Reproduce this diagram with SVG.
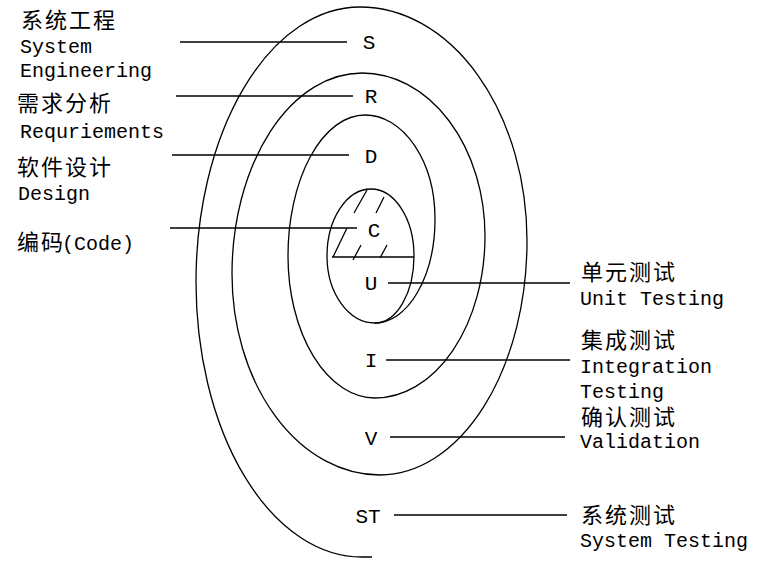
<svg xmlns="http://www.w3.org/2000/svg" width="763" height="562" viewBox="0 0 763 562">
<style>
.ln{fill:none;stroke:#000;stroke-width:1.3}
.cj{font-family:"Noto Sans CJK SC","Noto Sans CJK JP",sans-serif;font-size:22px;letter-spacing:2px;fill:#000}
.en{font-family:"Liberation Mono","DejaVu Sans Mono",monospace;font-size:20px;fill:#000}
.lt{font-family:"Liberation Mono","DejaVu Sans Mono",monospace;font-size:21px;fill:#000;text-anchor:middle}
</style>
<rect width="763" height="562" fill="#fff"/>
<g id="spiral">
<path class="ln" d="M371 189 A44 67 0 0 0 327 256 A48 67 0 0 0 375 323 A39 67 0 0 0 414 256 A43 67 0 0 0 371 189 Z"/>
<path class="ln" d="M375 323 A60 104 0 0 0 435 219 A70 104 0 0 0 365 115 A77 141 0 0 0 288 256 A87 142 0 0 0 375 398 A110 162 0 0 0 485 236 A123 163 0 0 0 362 73 A130 201 0 0 0 232 274 A148 201 0 0 0 380 475 A147 234 0 0 0 527 241 A167 234 0 0 0 360 7 A164 275 0 0 0 196 282 A166 275 0 0 0 362 557 L372 557"/>
<path class="ln" d="M332 257 H414 M367 190 L354 213 M384 197 L376 213 M347 228 L333 257 M361 245 L353 260 M387 245 L380 258"/>
</g>
<g id="connectors">
<path class="ln" d="M180 42 H347 M176 96 H353 M172 155 H349 M170 228 H357 M388 283 H570 M386 360 H570 M390 437 H565 M394 515 H567"/>
</g>
<g id="node-S"><text class="lt" x="369" y="49">S</text>
<text class="cj" x="21" y="28">系统工程</text><text class="en" x="20" y="53">System</text><text class="en" x="20" y="77">Engineering</text></g>
<g id="node-R"><text class="lt" x="371" y="103">R</text>
<text class="cj" x="17" y="111">需求分析</text><text class="en" x="20" y="138">Requriements</text></g>
<g id="node-D"><text class="lt" x="371" y="163">D</text>
<text class="cj" x="17" y="175">软件设计</text><text class="en" x="18" y="200">Design</text></g>
<g id="node-C"><text class="lt" x="374" y="237">C</text>
<text x="17" y="250"><tspan class="cj">编码</tspan><tspan class="en" x="62">(Code)</tspan></text></g>
<g id="node-U"><text class="lt" x="371" y="290">U</text>
<text class="cj" x="581" y="280">单元测试</text><text class="en" x="580" y="305">Unit Testing</text></g>
<g id="node-I"><text class="lt" x="371" y="367">I</text>
<text class="cj" x="581" y="348">集成测试</text><text class="en" x="580" y="373">Integration</text><text class="en" x="580" y="398">Testing</text></g>
<g id="node-V"><text class="lt" x="371" y="445">V</text>
<text class="cj" x="581" y="425">确认测试</text><text class="en" x="580" y="448">Validation</text></g>
<g id="node-ST"><text class="lt" x="368" y="523">ST</text>
<text class="cj" x="581" y="523">系统测试</text><text class="en" x="580" y="547">System Testing</text></g>
</svg>
